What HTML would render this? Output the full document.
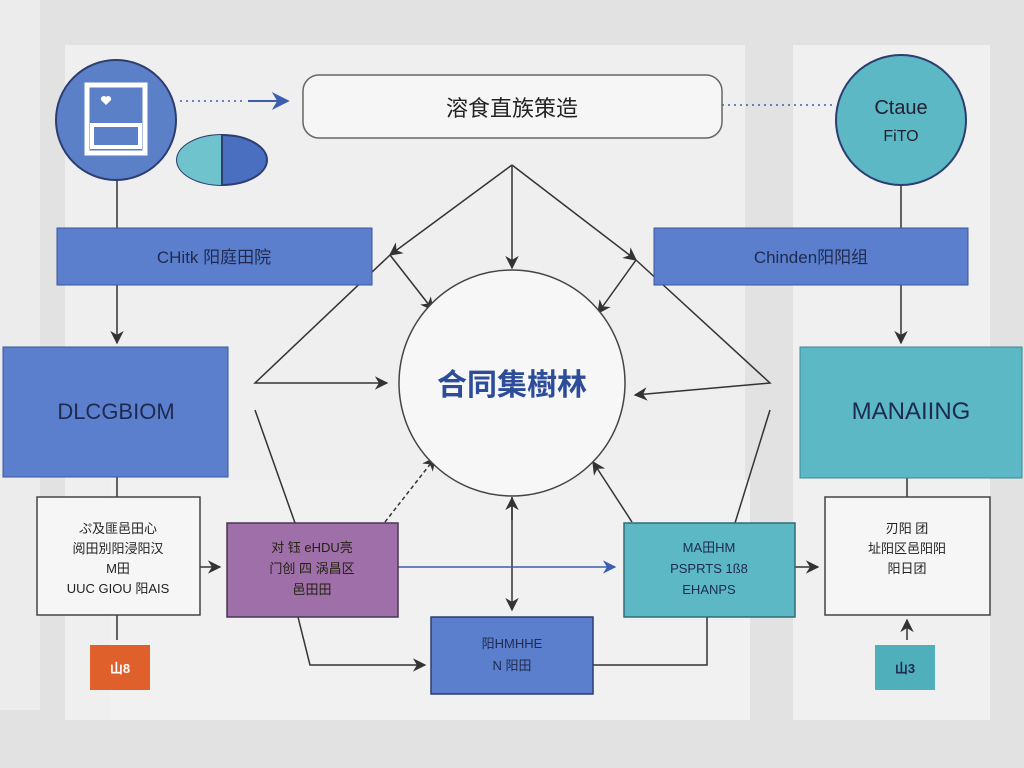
<!DOCTYPE html>
<html><head><meta charset="utf-8"><style>
html,body{margin:0;padding:0;width:1024px;height:768px;overflow:hidden;background:#e3e3e3}
svg{display:block}
text{font-family:"Liberation Sans","Noto Sans CJK SC",sans-serif}
</style></head><body>
<svg width="1024" height="768" viewBox="0 0 1024 768" xmlns="http://www.w3.org/2000/svg">
<defs>
<marker id="a" viewBox="0 0 10 10" refX="9" refY="5" markerWidth="9" markerHeight="9" orient="auto"><path d="M0,0 L10,5 L0,10 L3,5z" fill="#333"/></marker>
<marker id="b" viewBox="0 0 10 10" refX="9" refY="5" markerWidth="9" markerHeight="9" orient="auto"><path d="M0,0 L10,5 L0,10 L3,5z" fill="#3d5fb0"/></marker>
</defs>
<rect width="1024" height="768" fill="#e2e2e2"/>
<rect x="0" y="0" width="40" height="710" fill="#ececec"/>
<rect x="65" y="45" width="680" height="675" fill="#efefef"/>
<rect x="110" y="480" width="640" height="240" fill="#f1f1f1"/>
<rect x="793" y="45" width="197" height="675" fill="#f0f0f0"/>
<g stroke="#333" stroke-width="1.5" fill="none">
<line x1="117" y1="180" x2="117" y2="228"/>
<line x1="117" y1="285" x2="117" y2="343" marker-end="url(#a)"/>
<line x1="117" y1="477" x2="117" y2="497"/>
<line x1="117" y1="615" x2="117" y2="640"/>
<line x1="901" y1="185" x2="901" y2="228"/>
<line x1="901" y1="285" x2="901" y2="343" marker-end="url(#a)"/>
<line x1="907" y1="478" x2="907" y2="497"/>
<line x1="907" y1="640" x2="907" y2="620" marker-end="url(#a)"/>
<line x1="512" y1="165" x2="512" y2="268" marker-end="url(#a)"/>
<line x1="512" y1="165" x2="390" y2="255" marker-end="url(#a)"/>
<line x1="512" y1="165" x2="636" y2="260" marker-end="url(#a)"/>
<polyline points="390,255 255,383 387,383" marker-end="url(#a)"/>
<polyline points="636,260 770,383 635,395" marker-end="url(#a)"/>
<line x1="390" y1="255" x2="433" y2="310" marker-end="url(#a)"/>
<line x1="636" y1="260" x2="598" y2="313" marker-end="url(#a)"/>
<polyline points="255,410 295,523"/>
<polyline points="770,410 735,523"/>
<line x1="512" y1="497" x2="512" y2="610" marker-end="url(#a)"/>
<line x1="512" y1="520" x2="512" y2="498" marker-end="url(#a)"/>
<polyline points="298,617 310,665 425,665" marker-end="url(#a)"/>
<polyline points="707,617 707,665 593,665"/>
<line x1="200" y1="567" x2="220" y2="567" marker-end="url(#a)"/>
<line x1="795" y1="567" x2="818" y2="567" marker-end="url(#a)"/>
<line x1="398" y1="567" x2="615" y2="567" stroke="#3d5fb0" marker-end="url(#b)"/>
<line x1="385" y1="522" x2="435" y2="458" stroke-dasharray="4,3" marker-end="url(#a)"/>
<line x1="632" y1="522" x2="593" y2="462" marker-end="url(#a)"/>
<line x1="180" y1="101" x2="245" y2="101" stroke-dasharray="2,4" stroke="#3d5fb0"/>
<line x1="248" y1="101" x2="288" y2="101" stroke="#3d5fb0" stroke-width="2" marker-end="url(#b)"/>
<line x1="722" y1="105" x2="835" y2="105" stroke-dasharray="2,4" stroke="#3d5fb0"/>
</g>
<circle cx="116" cy="120" r="60" fill="#5b80c8" stroke="#2d3d70" stroke-width="2"/>
<rect x="87" y="85" width="58" height="68" fill="none" stroke="#fff" stroke-width="5"/>
<rect x="92" y="125" width="48" height="22" fill="none" stroke="#fff" stroke-width="4"/>
<path d="M101,100 l5,5 5,-5 a3,3 0 0,0 -5,-3 a3,3 0 0,0 -5,3z" fill="#fff"/>
<ellipse cx="222" cy="160" rx="45" ry="25" fill="#4a6fc0" stroke="#2d3d70" stroke-width="2"/>
<path d="M222,135 A45,25 0 0,0 222,185z" fill="#6ec3cc"/>
<line x1="222" y1="135" x2="222" y2="185" stroke="#2d3d70" stroke-width="2"/>
<rect x="303" y="75" width="419" height="63" rx="16" fill="#f6f6f6" stroke="#666" stroke-width="1.5"/>
<text x="512" y="116" font-size="22" text-anchor="middle" fill="#222">溶食直族策造</text>
<circle cx="901" cy="120" r="65" fill="#5bb8c4" stroke="#2d3d70" stroke-width="2"/>
<text x="901" y="114" font-size="20" text-anchor="middle" fill="#223">Ctaue</text>
<text x="901" y="141" font-size="16" text-anchor="middle" fill="#223">FiTO</text>
<rect x="57" y="228" width="315" height="57" fill="#5b7fcc" stroke="#3a56a0"/>
<text x="214" y="263" font-size="17" text-anchor="middle" fill="#1f2a50">CHitk   阳庭田院</text>
<rect x="654" y="228" width="314" height="57" fill="#5b7fcc" stroke="#3a56a0"/>
<text x="811" y="263" font-size="17" text-anchor="middle" fill="#1f2a50">Chinden阳阳组</text>
<rect x="3" y="347" width="225" height="130" fill="#5b7fcc" stroke="#3a56a0"/>
<text x="116" y="419" font-size="22" text-anchor="middle" fill="#1f2a50">DLCGBIOM</text>
<rect x="800" y="347" width="222" height="131" fill="#5bb8c4" stroke="#3a8a94"/>
<text x="911" y="419" font-size="24" text-anchor="middle" fill="#1f2a50">MANAIING</text>
<circle cx="512" cy="383" r="113" fill="#f7f7f7" stroke="#444" stroke-width="1.5"/>
<text x="512" y="395" font-size="30" font-weight="bold" text-anchor="middle" fill="#2d4c9a">合同集樹林</text>
<rect x="37" y="497" width="163" height="118" fill="#f6f6f6" stroke="#444" stroke-width="1.5"/>
<g font-size="13" text-anchor="middle" fill="#222">
<text x="118" y="533">ぷ及匪邑田心</text><text x="118" y="553">阅田別阳浸阳汉</text><text x="118" y="573">M田</text><text x="118" y="593">UUC GIOU 阳AIS</text>
</g>
<rect x="227" y="523" width="171" height="94" fill="#9e6fa8" stroke="#4a3552" stroke-width="1.5"/>
<g font-size="13" text-anchor="middle" fill="#221"><text x="312" y="552">对 钰 eHDU亮</text><text x="312" y="573">门创 四  涡昌区</text><text x="312" y="594">邑田田</text></g>
<rect x="624" y="523" width="171" height="94" fill="#5bb8c4" stroke="#2f6e78" stroke-width="1.5"/>
<g font-size="13" text-anchor="middle" fill="#1f2a50"><text x="709" y="552">MA田HM</text><text x="709" y="573">PSPRTS 1ß8</text><text x="709" y="594">EHANPS</text></g>
<rect x="825" y="497" width="165" height="118" fill="#f6f6f6" stroke="#444" stroke-width="1.5"/>
<g font-size="13" text-anchor="middle" fill="#222"><text x="907" y="533">刃阳 团</text><text x="907" y="553">址阳区邑阳阳</text><text x="907" y="573">阳日团</text></g>
<rect x="431" y="617" width="162" height="77" fill="#5b7fcc" stroke="#2d3d70" stroke-width="1.5"/>
<g font-size="13" text-anchor="middle" fill="#1f2a50"><text x="512" y="648">阳HMHHE</text><text x="512" y="670">N 阳田</text></g>
<rect x="90" y="645" width="60" height="45" fill="#e0602c"/>
<text x="120" y="673" font-size="13" text-anchor="middle" fill="#fff" font-weight="bold">山8</text>
<rect x="875" y="645" width="60" height="45" fill="#4fb0bc"/>
<text x="905" y="673" font-size="13" text-anchor="middle" fill="#1f2a50" font-weight="bold">山3</text>
</svg>
</body></html>
